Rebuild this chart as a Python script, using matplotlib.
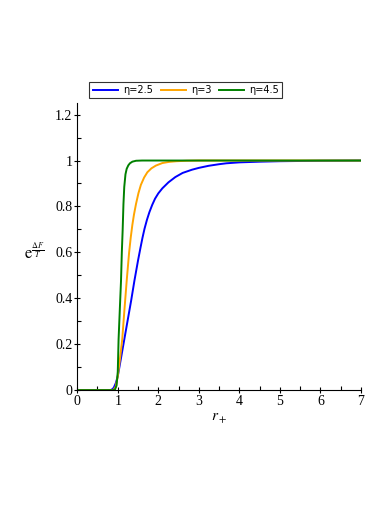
import numpy as np
import matplotlib
matplotlib.use("Agg")
import matplotlib.pyplot as plt
from matplotlib.ticker import MultipleLocator

# values
r_a = [0, 0.8, 0.85, 0.9, 0.95, 1.0, 1.05, 1.1, 1.16, 1.25, 1.33, 1.41, 1.5, 1.56, 1.61, 1.66,
       1.72, 1.78, 1.85, 1.92, 2.0, 2.1, 2.25, 2.42, 2.6, 2.83, 3.0, 3.24, 3.5, 3.68, 4.0,
       4.5, 5.0, 6.0, 7.0]
y_a = [0, 0, 0.002, 0.01, 0.03, 0.06, 0.11, 0.16, 0.22, 0.31, 0.39, 0.476, 0.565, 0.62, 0.664,
       0.703, 0.742, 0.775, 0.807, 0.834, 0.857, 0.879, 0.905, 0.928, 0.946, 0.960, 0.968,
       0.977, 0.984, 0.988, 0.992, 0.995, 0.997, 0.999, 1.0]

r_b = [0, 0.85, 0.9, 0.95, 1.0, 1.05, 1.11, 1.16, 1.22, 1.28, 1.32, 1.36, 1.40, 1.45, 1.51,
       1.57, 1.65, 1.73, 1.83, 1.94, 2.1, 2.26, 2.45, 2.7, 3.0, 7.0]
y_b = [0, 0, 0.002, 0.015, 0.06, 0.13, 0.221, 0.34, 0.476, 0.6, 0.665, 0.72, 0.765, 0.811,
       0.858, 0.894, 0.926, 0.949, 0.966, 0.978, 0.989, 0.994, 0.997, 0.999, 1.0, 1.0]

r_c = [0, 0.88, 0.93, 0.97, 1.0, 1.02, 1.05, 1.08, 1.10, 1.12, 1.14, 1.16, 1.19, 1.22, 1.26,
       1.30, 1.36, 1.45, 1.6, 7.0]
y_c = [0, 0, 0.002, 0.02, 0.08, 0.221, 0.35, 0.476, 0.6, 0.694, 0.81, 0.885, 0.94, 0.964,
       0.979, 0.988, 0.995, 0.999, 1.0, 1.0]

labels = ["η=2.5", "η=3", "η=4.5"]
colors = ["#0000ff", "#ffa500", "#008000"]

plt.rcParams['mathtext.fontset'] = 'stix'

fig = plt.figure(figsize=(3.92, 5.08), dpi=100)
ax = fig.add_axes([0.197, 0.232, 0.724, 0.565])

for r, y, lab, c in zip([r_a, r_b, r_c], [y_a, y_b, y_c], labels, colors):
    ax.plot(r, y, color=c, lw=1.4, label=lab, solid_joinstyle='round')

ax.set_xlim(0, 7)
ax.set_ylim(0, 1.25)
ax.xaxis.set_major_locator(MultipleLocator(1))
ax.xaxis.set_minor_locator(MultipleLocator(0.5))
ax.yaxis.set_minor_locator(MultipleLocator(0.1))
ax.set_yticks([0, 0.2, 0.4, 0.6, 0.8, 1, 1.2])
ax.set_yticklabels(["0", "0.2", "0.4", "0.6", "0.8", "1", "1.2"])
ax.tick_params(which='major', direction='inout', length=5, width=0.8, labelsize=10, pad=1)
ax.tick_params(which='minor', direction='in', length=3, width=0.8)
for lbl in ax.get_xticklabels() + ax.get_yticklabels():
    lbl.set_fontfamily('Liberation Serif')

ax.spines['top'].set_visible(False)
ax.spines['right'].set_visible(False)

ax.set_xlabel(r'$r_+$', fontsize=11, labelpad=2)
fig.text(0.062, 0.502, r'$\mathrm{e}^{\frac{\Delta F}{T}}$', fontsize=12, va='center', ha='left')

leg = fig.legend(loc='center', bbox_to_anchor=(0.474, 0.823), ncol=3, fontsize=7,
                 frameon=True, fancybox=False, handlelength=2.6, borderaxespad=0,
                 borderpad=0.35, columnspacing=0.8, handletextpad=0.5)
leg.get_frame().set_edgecolor('black')
leg.get_frame().set_linewidth(0.8)

fig.savefig('out.png', dpi=100)
